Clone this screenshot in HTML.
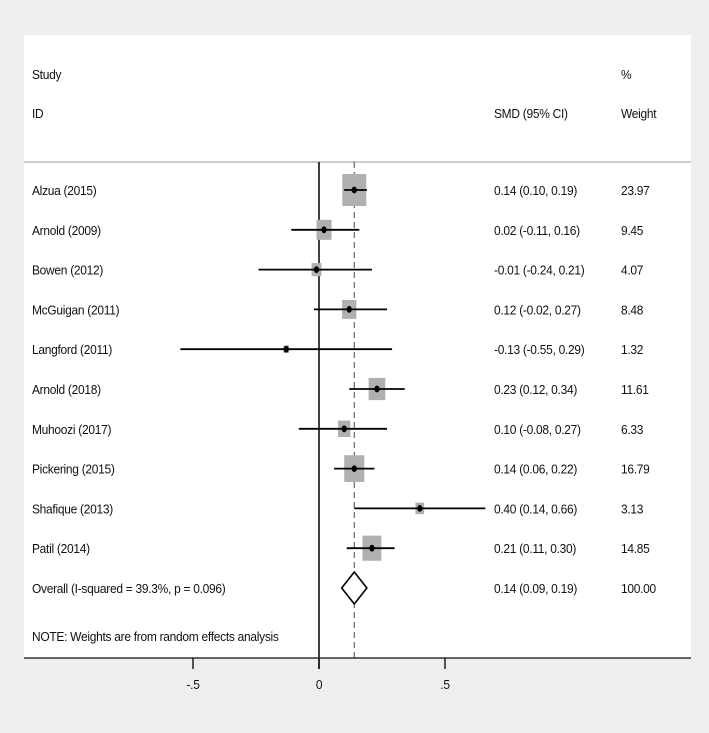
<!DOCTYPE html>
<html><head><meta charset="utf-8"><style>
html,body{margin:0;padding:0;background:#eeeeee;}
svg{display:block;font-family:"Liberation Sans",Arial,sans-serif;}
text{font-size:13px;fill:#111;letter-spacing:-0.3px;transform-box:fill-box;transform-origin:left center;transform:scaleX(0.92);}
text.mid{transform-origin:center center;}
</style></head><body>
<svg id="chart" width="709" height="733">
<rect x="0" y="0" width="709" height="733" fill="#eeeeee"/>
<rect x="24" y="35" width="667" height="623" fill="#ffffff"/>
<text x="32" y="79">Study</text>
<text x="32" y="118">ID</text>
<text x="494" y="118">SMD (95% CI)</text>
<text x="621" y="79">%</text>
<text x="621" y="118">Weight</text>
<line x1="24" y1="162" x2="691" y2="162" stroke="#bbbbbb" stroke-width="1.5"/>
<g id="marks"></g>
<text x="32" y="641">NOTE: Weights are from random effects analysis</text>
</svg>
<script>
const studies=["Alzua (2015)","Arnold (2009)","Bowen (2012)","McGuigan (2011)","Langford (2011)","Arnold (2018)","Muhoozi (2017)","Pickering (2015)","Shafique (2013)","Patil (2014)"];
const est=[0.14,0.02,-0.01,0.12,-0.13,0.23,0.10,0.14,0.40,0.21];
const lo=[0.10,-0.11,-0.24,-0.02,-0.55,0.12,-0.08,0.06,0.14,0.11];
const hi=[0.19,0.16,0.21,0.27,0.29,0.34,0.27,0.22,0.66,0.30];
const weights=[23.97,9.45,4.07,8.48,1.32,11.61,6.33,16.79,3.13,14.85];
const overall=[0.14,0.09,0.19];
const overallLabel="Overall  (I-squared = 39.3%, p = 0.096)";
const ticks=[-0.5,0,0.5];
const tickLabels=["-.5","0",".5"];

const NS="http://www.w3.org/2000/svg";
const g=document.getElementById('marks');
const xs=v=>319+v*252;
const ys=i=>190+i*39.8;
const fmt=v=>v.toFixed(2);
function el(t,a,p){const e=document.createElementNS(NS,t);for(const k in a)e.setAttribute(k,a[k]);(p||g).appendChild(e);return e;}
const plotBottom=658;
let z=el('line',{x1:xs(0),y1:162,x2:xs(0),y2:plotBottom+11,stroke:'#000','stroke-width':1.5});


let d=el('line',{x1:xs(overall[0]),y1:162,x2:xs(overall[0]),y2:plotBottom,stroke:'#666','stroke-width':1.2,'stroke-dasharray':'6,4'});


studies.forEach((s,i)=>{
  const y=ys(i);
  const side=24*Math.sqrt(weights[i]/23.97);
  const sh=side*1.33;
  const b=el('rect',{x:xs(est[i])-side/2,y:y-sh/2,width:side,height:sh,fill:'#b0b0b0'});
  
  
  const l=el('line',{x1:xs(lo[i]),y1:y,x2:xs(hi[i]),y2:y,stroke:'#000','stroke-width':1.8});
  
  
  const p=el('ellipse',{cx:xs(est[i]),cy:y,rx:2.6,ry:3.4,fill:'#000'});
  
  
  const t=el('text',{x:32,y:y+5});t.textContent=s;
  
  
  const c=el('text',{x:494,y:y+5});c.textContent=fmt(est[i])+' ('+fmt(lo[i])+', '+fmt(hi[i])+')';
  
  
  const w=el('text',{x:621,y:y+5});w.textContent=weights[i].toFixed(2);
  
  
});
const oy=ys(studies.length);
const dm=el('polygon',{points:`${xs(overall[1])},${oy} ${xs(overall[0])},${oy-16} ${xs(overall[2])},${oy} ${xs(overall[0])},${oy+16}`,fill:'#fff',stroke:'#000','stroke-width':1.6});


let ot=el('text',{x:32,y:oy+5});ot.textContent=overallLabel;


let oc=el('text',{x:494,y:oy+5});oc.textContent=fmt(overall[0])+' ('+fmt(overall[1])+', '+fmt(overall[2])+')';


let ow=el('text',{x:621,y:oy+5});ow.textContent='100.00';


let ax=el('line',{x1:24,y1:plotBottom,x2:691,y2:plotBottom,stroke:'#333','stroke-width':1.6});


ticks.forEach((t,i)=>{
  const tl=el('line',{x1:xs(t),y1:plotBottom,x2:xs(t),y2:plotBottom+11,stroke:'#000','stroke-width':1.3});
  
  
  const tx=el('text',{x:xs(t),y:plotBottom+31,'text-anchor':'middle','class':'mid'});tx.textContent=tickLabels[i];
  
  
});
</script>
</body></html>
